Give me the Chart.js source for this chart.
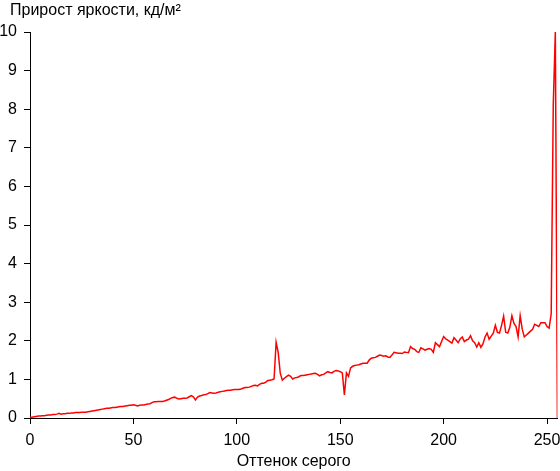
<!DOCTYPE html>
<html>
<head>
<meta charset="utf-8">
<script src="https://cdn.jsdelivr.net/npm/chart.js@4/dist/chart.umd.min.js"></script>
<style>
  html, body { margin: 0; padding: 0; background: #fff; }
  #wrap { width: 560px; height: 471px; }
</style>
</head>
<body>
<div id="wrap"><canvas id="chart"></canvas></div>
<script>
// brightness increment per grey level (levels 0..255)
const increments = [
  0.02, 0.02, 0.03, 0.04, 0.05, 0.05, 0.06, 0.06, 0.07, 0.08,
  0.08, 0.09, 0.09, 0.10, 0.12, 0.10, 0.11, 0.11, 0.12, 0.12,
  0.13, 0.13, 0.14, 0.14, 0.14, 0.15, 0.15, 0.15, 0.16, 0.17,
  0.18, 0.19, 0.20, 0.21, 0.22, 0.23, 0.24, 0.25, 0.25, 0.26,
  0.27, 0.27, 0.28, 0.29, 0.30, 0.30, 0.31, 0.32, 0.33, 0.33,
  0.34, 0.33, 0.31, 0.33, 0.34, 0.34, 0.35, 0.36, 0.37, 0.40,
  0.42, 0.42, 0.43, 0.43, 0.43, 0.44, 0.46, 0.48, 0.51, 0.53,
  0.54, 0.51, 0.49, 0.50, 0.51, 0.51, 0.52, 0.55, 0.58, 0.55,
  0.47, 0.54, 0.57, 0.58, 0.60, 0.61, 0.63, 0.66, 0.65, 0.64,
  0.65, 0.67, 0.68, 0.69, 0.70, 0.71, 0.72, 0.72, 0.73, 0.74,
  0.74, 0.74, 0.75, 0.77, 0.79, 0.79, 0.80, 0.82, 0.84, 0.85,
  0.83, 0.87, 0.90, 0.90, 0.93, 0.97, 0.98, 0.99, 1.01, 1.96,
  1.70, 1.16, 0.98, 1.03, 1.07, 1.11, 1.08, 1.01, 1.04, 1.05,
  1.07, 1.10, 1.10, 1.11, 1.12, 1.13, 1.14, 1.15, 1.16, 1.13,
  1.09, 1.12, 1.13, 1.17, 1.20, 1.18, 1.17, 1.21, 1.23, 1.22,
  1.20, 1.17, 0.60, 1.17, 1.08, 1.30, 1.34, 1.36, 1.37, 1.38,
  1.40, 1.42, 1.42, 1.42, 1.50, 1.55, 1.56, 1.57, 1.60, 1.63,
  1.62, 1.60, 1.61, 1.58, 1.57, 1.63, 1.70, 1.69, 1.68, 1.68,
  1.67, 1.71, 1.70, 1.69, 1.85, 1.80, 1.78, 1.72, 1.70, 1.82,
  1.79, 1.76, 1.78, 1.80, 1.78, 1.70, 1.95, 1.90, 1.85, 1.98,
  2.11, 2.05, 2.02, 1.98, 1.94, 2.08, 2.02, 1.95, 2.05, 2.10,
  1.98, 2.02, 2.04, 2.13, 2.00, 1.95, 1.84, 1.95, 1.83, 1.92,
  2.10, 2.20, 2.04, 2.12, 2.20, 2.40, 2.22, 2.20, 2.40, 2.64,
  2.22, 2.20, 2.35, 2.65, 2.45, 2.37, 2.10, 2.65, 2.30, 2.10,
  2.15, 2.20, 2.25, 2.30, 2.43, 2.40, 2.37, 2.47, 2.47, 2.47,
  2.37, 2.33, 2.70, 8.10, 10.0, 0.00
];
const greyLevels = increments.map((v, k) => k);
const yTicks = [0, 1, 2, 3, 4, 5, 6, 7, 8, 9, 10];
const xTicks = [0, 50, 100, 150, 200, 250];

const chartTitle = "Прирост яркости, кд/м²";
const xTitle = "Оттенок серого";

const FONT = "'Liberation Sans', Arial, sans-serif";

const titlePlugin = {
  id: "topTitle",
  afterDraw(chart) {
    const ctx = chart.ctx;
    ctx.save();
    ctx.font = "16px " + FONT;
    ctx.fillStyle = "#000";
    ctx.textBaseline = "top";
    ctx.textAlign = "left";
    ctx.fillText(chartTitle, 10, 3);
    ctx.restore();
  }
};

new Chart(document.getElementById("chart"), {
  type: "line",
  data: {
    datasets: [{
      data: greyLevels.map((g, k) => ({ x: g, y: increments[k] })),
      borderColor: "#ff0000",
      borderWidth: 1.5,
      pointRadius: 0,
      tension: 0,
      fill: false
    }]
  },
  options: {
    responsive: true,
    maintainAspectRatio: false,
    animation: false,
    layout: { padding: { left: 0, right: 2.6, top: 32, bottom: 0 } },
    plugins: {
      legend: { display: false },
      tooltip: { enabled: false }
    },
    scales: {
      x: {
        type: "linear",
        min: 0,
        max: 255,
        afterBuildTicks: s => { s.ticks = xTicks.map(v => ({ value: v })); },
        afterFit: s => { s.height = 53; s.paddingLeft = 0; s.paddingRight = 0; },
        ticks: { color: "#000", font: { family: FONT, size: 16 }, padding: 7, maxRotation: 0 },
        grid: { drawOnChartArea: false, drawTicks: true, tickLength: 6, color: "#000" },
        border: { color: "#000", width: 1 },
        title: { display: true, text: xTitle, color: "#000", font: { family: FONT, size: 16 }, padding: { top: 0, bottom: 0 } }
      },
      y: {
        min: 0,
        max: 10,
        afterBuildTicks: s => { s.ticks = yTicks.map(v => ({ value: v })); },
        afterFit: s => { s.width = 30; },
        ticks: { color: "#000", font: { family: FONT, size: 16 }, padding: 7 },
        grid: { drawOnChartArea: false, drawTicks: true, tickLength: 6, color: "#000" },
        border: { color: "#000", width: 1 }
      }
    }
  },
  plugins: [titlePlugin]
});
</script>
</body>
</html>
